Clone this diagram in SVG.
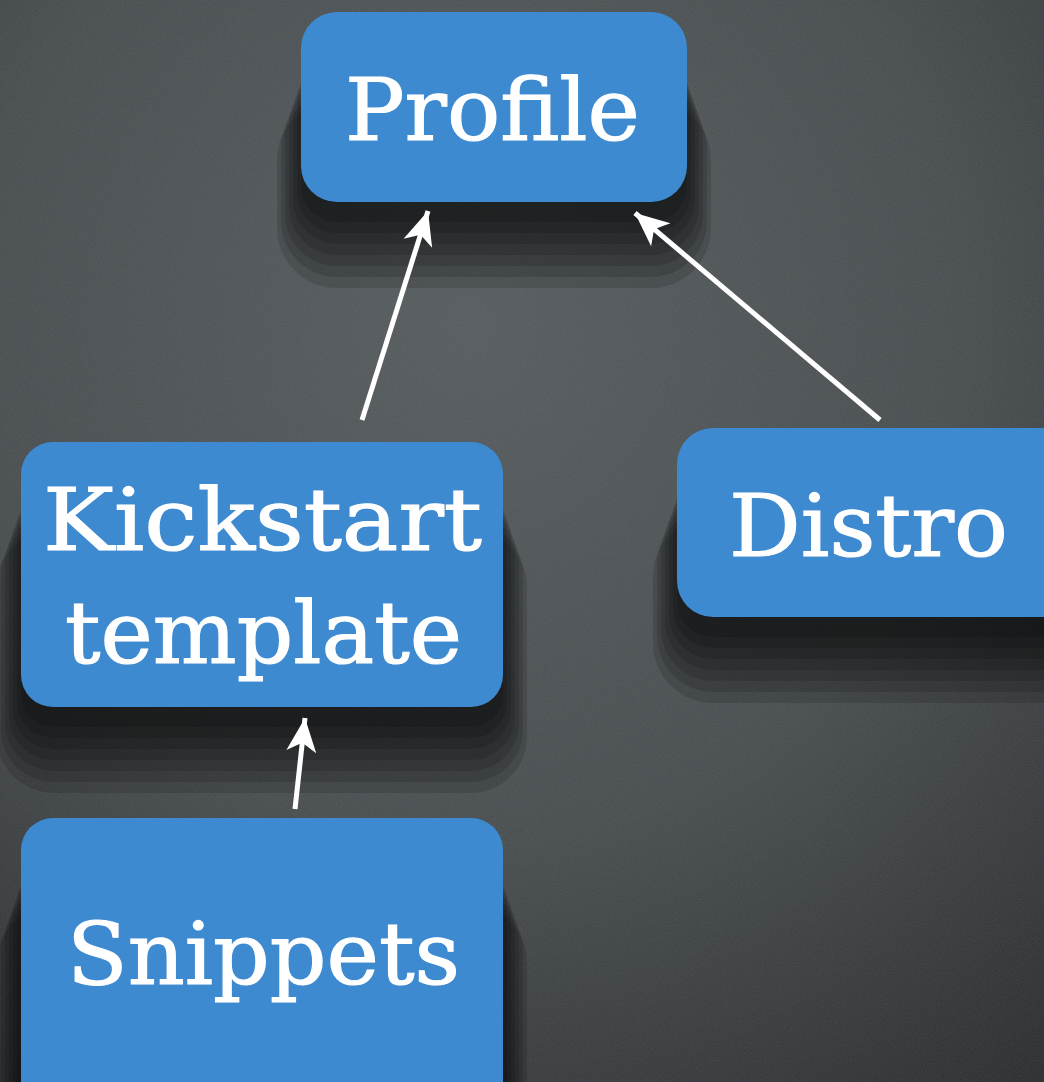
<svg xmlns="http://www.w3.org/2000/svg" width="1044" height="1082" viewBox="0 0 1044 1082">
  <defs>
    <radialGradient id="bg" cx="0.45" cy="0.3" r="0.95">
      <stop offset="0" stop-color="#545a5d"/>
      <stop offset="0.5" stop-color="#464b4e"/>
      <stop offset="1" stop-color="#232527"/>
    </radialGradient>
    <filter id="noise" x="0" y="0" width="100%" height="100%">
      <feTurbulence type="fractalNoise" baseFrequency="0.8" numOctaves="2" seed="3" result="t"/>
      <feColorMatrix type="matrix" values="0 0 0 0 0.5  0 0 0 0 0.5  0 0 0 0 0.5  0 0 0 0.14 0" />
    </filter>
    <marker id="arrow" markerUnits="userSpaceOnUse" markerWidth="40" markerHeight="40" viewBox="-30 -15 32 30" refX="0" refY="0" orient="auto">
      <path d="M0,0 L-27,-12 L-20,0 L-27,12 Z" fill="#ffffff"/>
    </marker>
    <style>
      .box { fill: #3e8ad0; }
      .sh { fill: #000000; opacity: 0.13; }
      .label { font-family: "DejaVu Serif", "Liberation Serif", serif; font-size: 86px; fill: #ffffff; stroke: #ffffff; stroke-width: 1.2; }
      .edge { stroke: #ffffff; stroke-width: 5; fill: none; marker-end: url(#arrow); }
    </style>
  </defs>

  <rect x="0" y="0" width="1044" height="1082" fill="url(#bg)"/>
  <rect x="0" y="0" width="1044" height="1082" filter="url(#noise)"/>

  <g id="shadows">
    <rect class="sh" x="301" y="52" width="386" height="170" rx="36"/>
    <rect class="sh" x="297" y="60" width="394" height="173" rx="40"/>
    <rect class="sh" x="293" y="68" width="402" height="176" rx="44"/>
    <rect class="sh" x="289" y="76" width="410" height="179" rx="48"/>
    <rect class="sh" x="285" y="84" width="418" height="182" rx="52"/>
    <rect class="sh" x="281" y="92" width="426" height="185" rx="56"/>
    <rect class="sh" x="277" y="100" width="434" height="188" rx="60"/>

    <rect class="sh" x="21" y="482" width="482" height="245" rx="32"/>
    <rect class="sh" x="17" y="490" width="490" height="248" rx="36"/>
    <rect class="sh" x="13" y="498" width="498" height="251" rx="40"/>
    <rect class="sh" x="9" y="506" width="506" height="254" rx="44"/>
    <rect class="sh" x="5" y="514" width="514" height="257" rx="48"/>
    <rect class="sh" x="1" y="522" width="522" height="260" rx="52"/>
    <rect class="sh" x="-3" y="530" width="530" height="263" rx="56"/>

    <rect class="sh" x="677" y="468" width="400" height="169" rx="36"/>
    <rect class="sh" x="673" y="476" width="408" height="172" rx="40"/>
    <rect class="sh" x="669" y="484" width="416" height="175" rx="44"/>
    <rect class="sh" x="665" y="492" width="424" height="178" rx="48"/>
    <rect class="sh" x="661" y="500" width="432" height="181" rx="52"/>
    <rect class="sh" x="657" y="508" width="440" height="184" rx="56"/>
    <rect class="sh" x="653" y="516" width="448" height="187" rx="60"/>

    <rect class="sh" x="21" y="858" width="482" height="300" rx="32"/>
    <rect class="sh" x="17" y="866" width="490" height="300" rx="36"/>
    <rect class="sh" x="13" y="874" width="498" height="300" rx="40"/>
    <rect class="sh" x="9" y="882" width="506" height="300" rx="44"/>
    <rect class="sh" x="5" y="890" width="514" height="300" rx="48"/>
    <rect class="sh" x="1" y="898" width="522" height="300" rx="52"/>
    <rect class="sh" x="-3" y="906" width="530" height="300" rx="56"/>
  </g>

  <g id="connectors">
    <line class="edge" x1="362" y1="420" x2="428" y2="211"/>
    <line class="edge" x1="880" y1="420" x2="635" y2="213"/>
    <line class="edge" x1="295" y1="809" x2="305" y2="718"/>
  </g>

  <g id="node-profile">
    <rect class="box" x="301" y="12" width="386" height="190" rx="36"/>
    <text class="label" x="345" y="140" textLength="295" lengthAdjust="spacingAndGlyphs">Profile</text>
  </g>

  <g id="node-kickstart">
    <rect class="box" x="21" y="442" width="482" height="265" rx="32"/>
    <text class="label" x="43" y="550" textLength="439" lengthAdjust="spacingAndGlyphs">Kickstart</text>
    <text class="label" x="65" y="663" textLength="397" lengthAdjust="spacingAndGlyphs">template</text>
  </g>

  <g id="node-distro">
    <rect class="box" x="677" y="428" width="400" height="189" rx="36"/>
    <text class="label" x="729" y="556" textLength="279" lengthAdjust="spacingAndGlyphs">Distro</text>
  </g>

  <g id="node-snippets">
    <rect class="box" x="21" y="818" width="482" height="300" rx="32"/>
    <text class="label" x="67" y="984" textLength="393" lengthAdjust="spacingAndGlyphs">Snippets</text>
  </g>
</svg>
